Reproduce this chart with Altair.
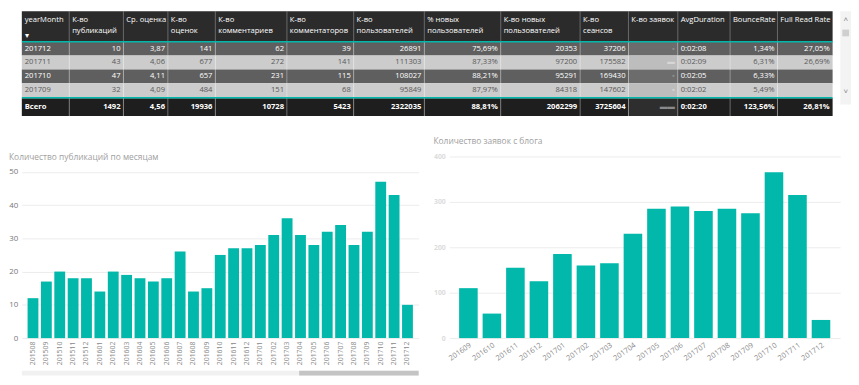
import altair as alt
import pandas as pd

# ---------------- data ----------------
tbl_year_month = ["201712", "201711", "201710", "201709", "Всего"]
tbl_publications = ["10", "43", "47", "32", "1492"]
tbl_avg_rating = ["3,87", "4,06", "4,11", "4,09", "4,56"]
tbl_ratings = ["141", "677", "657", "484", "19936"]
tbl_comments = ["62", "272", "231", "151", "10728"]
tbl_commenters = ["39", "141", "115", "68", "5423"]
tbl_users = ["26891", "111303", "108027", "95849", "2322035"]
tbl_new_users_pct = ["75,69%", "87,33%", "88,21%", "87,97%", "88,81%"]
tbl_new_users = ["20353", "97200", "95291", "84318", "2062299"]
tbl_sessions = ["37206", "175582", "169430", "147602", "3725604"]
tbl_requests = ["▪", "▬", "▪", "▪", "▬▬"]  # values are blurred in the source
tbl_avg_duration = ["0:02:08", "0:02:09", "0:02:05", "0:02:02", "0:02:20"]
tbl_bounce_rate = ["1,34%", "6,31%", "6,33%", "5,49%", "123,56%"]
tbl_full_read_rate = ["27,05%", "26,69%", "", "", "26,81%"]

col_headers = [["yearMonth"], ["К-во", "публикаций"], ["Ср. оценка"], ["К-во", "оценок"],
               ["К-во", "комментариев"], ["К-во", "комментаторов"], ["К-во", "пользователей"],
               ["% новых", "пользователей"], ["К-во новых", "пользователей"], ["К-во", "сеансов"],
               ["К-во заявок"], ["AvgDuration"], ["BounceRate"], ["Full Read Rate"]]

pub_months = ["201508", "201509", "201510", "201511", "201512", "201601", "201602", "201603",
              "201604", "201605", "201606", "201607", "201608", "201609", "201610", "201611",
              "201612", "201701", "201702", "201703", "201704", "201705", "201706", "201707",
              "201708", "201709", "201710", "201711", "201712"]
pub_counts = [12, 17, 20, 18, 18, 14, 20, 19, 18, 17, 18, 26, 14, 15, 25, 27,
              27, 28, 31, 36, 31, 28, 32, 34, 28, 32, 47, 43, 10]

req_months = ["201609", "201610", "201611", "201612", "201701", "201702", "201703", "201704",
              "201705", "201706", "201707", "201708", "201709", "201710", "201711", "201712"]
req_counts = [110, 54, 155, 125, 185, 160, 165, 230, 285, 290, 280, 285, 275, 365, 315, 40]

# ---------------- style / layout ----------------
FONT = "Segoe UI, Open Sans, sans-serif"
TEAL = "#01B8AA"
TFS = 7.7
col_edges = [0, 49, 105, 151, 200, 274, 343, 416, 495, 577, 627, 678, 732, 781, 838]
col_align = ["left"] + ["right"] * 10 + ["left", "right", "right"]
row_top = [32, 46, 60.5, 75, 90.5]
row_bot = [46, 60.5, 75, 89.5, 109]
row_fill = ["#5f5f5f", "#cccccc", "#5f5f5f", "#cccccc", "#1e1e1e"]
blur_fill = ["#6c6c6c", "#bdbdbd", "#6c6c6c", "#bdbdbd", "#2e2e2e"]
blur_text = ["#8e8e8e", "#d6d6d6", "#8e8e8e", "#d6d6d6", "#8a8a8a"]
row_text = ["#ffffff", "#5a5a5a", "#ffffff", "#5a5a5a", "#ffffff"]
row_bold = [False, False, False, False, True]
TW, TH = 840, 106
LW, RW, PH = 402, 396, 184

columns = [tbl_year_month, tbl_publications, tbl_avg_rating, tbl_ratings, tbl_comments,
           tbl_commenters, tbl_users, tbl_new_users_pct, tbl_new_users, tbl_sessions,
           tbl_requests, tbl_avg_duration, tbl_bounce_rate, tbl_full_read_rate]

# ---------------- table ----------------
cells, texts = [], []
for r in range(5):
    for c in range(14):
        x0, x1 = col_edges[c], col_edges[c + 1]
        cells.append({"x0": x0, "x1": x1, "y0": row_top[r], "y1": row_bot[r],
                      "fill": blur_fill[r] if c == 10 else row_fill[r]})
        texts.append({"tx": x0 + 3 if col_align[c] == "left" else x1 - 3,
                      "ty": (row_top[r] + row_bot[r]) / 2, "text": columns[c][r],
                      "color": blur_text[r] if c == 10 else row_text[r],
                      "align": col_align[c], "bold": row_bold[r]})
cells.append({"x0": 0, "x1": col_edges[-1], "y0": 0, "y1": 31.5, "fill": "#2b2b2b"})
cells.append({"x0": 846, "x1": 857, "y0": 0, "y1": 97, "fill": "#f3f3f3"})
cells.append({"x0": 848, "x1": 855, "y0": 19, "y1": 26, "fill": "#cfcfcf"})
cells_df = pd.DataFrame(cells)
texts_df = pd.DataFrame(texts)

head = []
for c, lines in enumerate(col_headers):
    for li, line in enumerate(lines):
        head.append({"tx": col_edges[c] + 3, "ty": 9 + li * 11, "text": line})
head.append({"tx": 3, "ty": 26, "text": "▾"})
head_df = pd.DataFrame(head)

xs = alt.Scale(domain=[0, 857], nice=False, zero=False)
ys = alt.Scale(domain=[0, 109], reverse=True, nice=False, zero=False)


def X(f):
    return alt.X(f, type="quantitative", scale=xs, axis=None)


def Y(f):
    return alt.Y(f, type="quantitative", scale=ys, axis=None)


bg = alt.Chart(cells_df).mark_rect().encode(
    x=X("x0"), x2="x1", y=Y("y0"), y2="y1", color=alt.Color("fill:N", scale=None))

sep_df = pd.DataFrame({"x": col_edges[1:-1]})
seps = alt.Chart(sep_df).mark_rule(color="#ffffff", opacity=0.3, strokeWidth=1).encode(
    x=X("x"), y=alt.value(0), y2=alt.value(TH))

teal_df = pd.DataFrame({"y": [31.7, 90.0]})
teal = alt.Chart(teal_df).mark_rule(color=TEAL, strokeWidth=1.5).encode(
    x=alt.value(0), x2=alt.value(col_edges[-1] * TW / 857), y=Y("y"))

head_txt = alt.Chart(head_df).mark_text(align="left", baseline="middle", font=FONT,
                                        fontSize=TFS, color="#ffffff").encode(
    x=X("tx"), y=Y("ty"), text="text:N")

text_layers = []
for al in ["left", "right"]:
    for b in [False, True]:
        sub = texts_df[(texts_df["align"] == al) & (texts_df["bold"] == b)]
        if len(sub) == 0:
            continue
        text_layers.append(alt.Chart(sub).mark_text(
            align=al, baseline="middle", font=FONT, fontSize=TFS,
            fontWeight="bold" if b else "normal").encode(
            x=X("tx"), y=Y("ty"), text="text:N", color=alt.Color("color:N", scale=None)))

arrow_df = pd.DataFrame({"tx": [851.5, 851.5], "ty": [9, 84], "text": ["˄", "˅"]})
arrows = alt.Chart(arrow_df).mark_text(align="center", baseline="middle", font=FONT,
                                       fontSize=8, color="#888888").encode(
    x=X("tx"), y=Y("ty"), text="text:N")

table = alt.layer(bg, seps, teal, head_txt, *text_layers, arrows).properties(width=TW, height=TH)

# ---------------- left bar chart ----------------
pub_df = pd.DataFrame({"month": pub_months, "count": pub_counts})
left_bars = alt.Chart(pub_df).mark_bar(color=TEAL).encode(
    x=alt.X("month:O", sort=None, title=None,
            scale=alt.Scale(paddingInner=0.19, paddingOuter=0.43),
            axis=alt.Axis(labelAngle=270, labelFontSize=7, labelPadding=3, ticks=False,
                          domain=False, grid=False, labelColor="#888888")),
    y=alt.Y("count:Q", title=None, scale=alt.Scale(domain=[0, 54.6], nice=False),
            axis=alt.Axis(values=[0, 10, 20, 30, 40, 50], ticks=False, domain=False,
                          labelPadding=4, labelFontSize=8, labelColor="#777777")))
one = pd.DataFrame({"k": [0]})
left_title = alt.Chart(one).mark_text(
    text="Количество публикаций по месяцам", align="left", baseline="middle",
    font=FONT, fontSize=8.5, color="#a0a0a0").encode(x=alt.value(-13), y=alt.value(1))
track = alt.Chart(one).mark_rect(color="#f1f1f1").encode(
    x=alt.value(0), x2=alt.value(LW), y=alt.value(PH + 33), y2=alt.value(PH + 38))
thumb = alt.Chart(one).mark_rect(color="#c4c4c4").encode(
    x=alt.value(round(LW * 0.70)), x2=alt.value(LW), y=alt.value(PH + 33), y2=alt.value(PH + 38))
left = alt.layer(left_bars, left_title, track, thumb).properties(width=LW, height=PH)

# ---------------- right bar chart ----------------
req_df = pd.DataFrame({"month": req_months, "count": req_counts})
right = alt.Chart(req_df).mark_bar(color=TEAL).encode(
    x=alt.X("month:O", sort=None, title=None,
            scale=alt.Scale(paddingInner=0.21, paddingOuter=0.42),
            axis=alt.Axis(labelAngle=325, labelFontSize=7.5, labelPadding=3, ticks=False,
                          domain=False, grid=False, labelColor="#888888")),
    y=alt.Y("count:Q", title=None, scale=alt.Scale(domain=[0, 400]),
            axis=alt.Axis(values=[0, 100, 200, 300, 400], ticks=False, domain=False,
                          labelPadding=4, labelFontSize=7, labelColor="#dcdcdc",
                          labelFontWeight="bold"))
).properties(width=RW, height=PH,
             title=alt.TitleParams("Количество заявок с блога", anchor="start",
                                   frame="bounds", font=FONT, fontSize=8.5,
                                   fontWeight="normal", color="#a0a0a0", offset=7))

bottom = alt.hconcat(left, right, spacing=31, bounds="flush")

chart = alt.vconcat(table, bottom, spacing=20).properties(
    padding={"left": 0, "top": 0, "right": 0, "bottom": 0}, background="#ffffff"
).configure_view(stroke=None).configure_axis(
    labelFont=FONT, gridColor="#ececec", gridWidth=1)

chart.save("out.html", embed_options={"renderer": "svg", "actions": False})
